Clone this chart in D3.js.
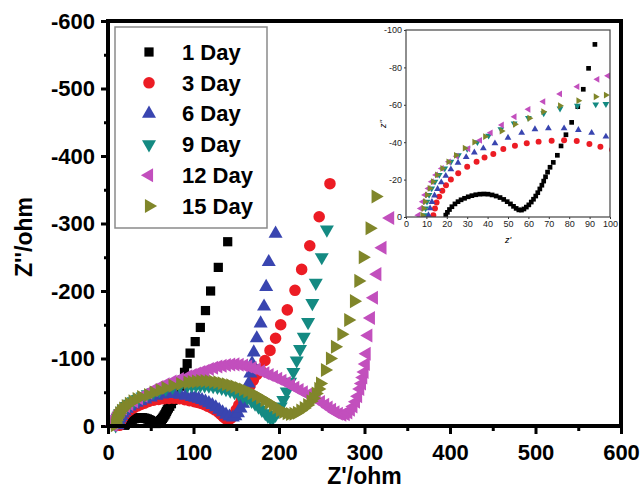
<!DOCTYPE html>
<html>
<head>
<meta charset="utf-8">
<script src="https://cdn.jsdelivr.net/npm/d3@7"></script>
<style>
  body { margin: 0; background: #fff; }
  text { font-family: "Liberation Sans", Arial, sans-serif; }
  .axis text { font-size: 22px; font-weight: bold; fill: #000; }
  .axis line { stroke: #000; stroke-width: 3; }
  .axis .domain { display: none; }
  .inset-axis text { font-size: 9px; fill: #222; }
  .inset-axis line { stroke: #333; stroke-width: 1; }
  .inset-axis .domain { display: none; }
</style>
</head>
<body>
<div id="vis"></div>
<script>
// data: [Z' (ohm), Z'' (ohm)]
var day1 = [[19.5,-1],[20.3,-2.5],[21.3,-4],[22.5,-5.5],[24,-7],[25.5,-8.2],[27,-9.2],[28.7,-10],[30.5,-10.8],[32.3,-11.4],[34.2,-11.9],[36.2,-12.2],[38.2,-12.3],[40.2,-12.2],[42.2,-11.8],[44.2,-11.2],[46.1,-10.4],[47.9,-9.4],[49.6,-8.2],[51.2,-7],[52.7,-5.7],[54,-4.6],[55.3,-3.8],[56.6,-3.7],[57.8,-4.3],[59,-5.3],[60.2,-6.5],[61.4,-8],[62.5,-9.5],[63.6,-11.2],[64.6,-13],[65.6,-15],[66.6,-17],[67.5,-19.2],[68.4,-21.5],[69.4,-24],[70.6,-26.6],[72.2,-29.2],[74.2,-33],[76,-38],[78.4,-44],[81.2,-50.6],[84.2,-59],[86.9,-68.3],[89.5,-79.5],[92.6,-92.3],[96,-108],[102,-125],[108,-146],[114,-171],[120,-200],[129,-235],[140,-273]];
var day3 = [[13.4,-1],[14.2,-4.6],[15,-7.7],[16.3,-10.9],[17.8,-14],[19.6,-17],[22,-20],[25.6,-23.4],[30,-26.9],[34.6,-29.6],[38.5,-31.8],[42.8,-33.7],[47.7,-36.4],[53.4,-38.1],[59.2,-39.4],[65,-40.3],[71.4,-40.8],[77.5,-41],[83.7,-40.6],[89.9,-39],[95.3,-37.6],[101,-36],[105,-34.8],[109,-33.3],[113,-31.5],[117,-29.2],[121,-26.8],[125,-24],[129,-20.5],[132,-17],[135,-13.5],[138,-10.5],[141,-9],[144,-11.5],[147,-17],[150,-24],[153,-31],[156,-39],[159,-46],[162,-52],[166,-59],[170,-68],[174,-76],[178,-84],[183.6,-97],[189.5,-112],[196,-130],[202,-150],[209.7,-172],[218.7,-201],[226.5,-232],[236,-267],[247,-310],[259.6,-359]];
var day6 = [[11,-1],[11.8,-4.6],[12.7,-8],[14,-11.5],[15.5,-15],[17.3,-18.5],[19.5,-22],[22,-25.5],[25.5,-29],[29.5,-32],[33.5,-34.5],[37.9,-36.7],[43.6,-39.4],[50,-42.4],[56.7,-45],[63.2,-46.9],[69.8,-47.4],[77.5,-47.4],[84.5,-46.5],[91,-45],[98,-43],[102,-41.8],[106,-40.3],[110,-38.5],[114,-36.3],[118,-33.8],[122,-31],[126,-27.8],[130,-24],[134,-20.3],[138,-16.8],[142,-14],[146,-12.5],[149,-14.5],[152,-19],[155,-26],[158,-33],[160,-40],[162,-48],[164.5,-63],[166.5,-78],[168.5,-93],[170.5,-109],[174,-130],[178.5,-152],[182.5,-177],[185,-206],[188,-243],[196,-285]];
var day9 = [[9,-1],[9.6,-4.6],[10.3,-8.2],[11.3,-11.8],[12.6,-15.3],[14.2,-18.9],[16.3,-22.5],[19,-26],[22,-29.5],[25.7,-33],[30,-36.5],[35,-40],[40.5,-43.5],[46.5,-47],[53,-50],[60,-53],[67.5,-55.5],[75.5,-58],[84,-59.5],[93,-60.2],[98,-60.4],[103,-60.6],[108,-60.6],[113,-60.3],[118,-59.8],[123,-59],[128,-57.8],[133,-56.3],[138,-54.5],[143,-52.5],[148,-50],[153,-47.5],[158,-44.5],[163,-41.5],[168,-37],[172,-33],[176,-28.5],[180,-24],[184,-19],[187,-15],[190,-12],[193,-12.5],[196,-16.5],[199,-22],[202,-29],[205,-38.5],[209,-51],[213,-65.6],[216.8,-80],[220.7,-97],[224.6,-114],[229,-132],[234,-154],[239,-182],[243,-212],[250,-250],[256,-291]];
var day12 = [[6,-1],[7.2,-4.6],[8.2,-8.2],[9.3,-11.8],[11,-15.3],[12.6,-18.9],[14.7,-22.5],[17.5,-26],[21,-29.5],[24.8,-32.5],[30.5,-36.5],[36.3,-41],[41.5,-45],[47,-49.2],[53.2,-53.6],[60,-57.6],[67.3,-61.7],[75.5,-65.8],[84,-69.7],[93.8,-73.6],[99,-75.5],[104,-77.8],[109,-80],[114,-82],[119,-84.3],[124,-86.3],[129,-88],[134,-89.3],[139,-90.3],[144,-91],[149,-91.3],[154,-90.8],[159,-89.8],[164,-88],[169,-86],[174,-83.7],[179,-81],[184,-78.3],[189,-75.7],[194,-73],[199,-70],[204,-67],[209,-63.8],[214,-60.3],[219,-56.8],[224,-53.3],[229,-50],[234,-46.5],[239,-43],[244,-39.5],[249,-35.5],[254,-31.5],[258,-27.5],[262,-24],[266,-20.5],[270,-18],[274,-16.5],[278,-17.5],[281,-20],[284,-24],[287,-29],[290,-36],[292.5,-44],[295,-55],[297,-63],[298.5,-72],[300,-80],[301.5,-92],[302.5,-107],[304.5,-134],[307.5,-160],[311,-190],[315,-225],[321,-264],[330,-308]];
var day15 = [[8,-1],[8.6,-4.6],[9.3,-8.2],[10.3,-11.8],[11.6,-15.3],[13.2,-18.9],[15.2,-22.5],[17.8,-26],[20.8,-29.5],[24.5,-33],[28.8,-36.8],[33.5,-40],[38.8,-43],[46.9,-46],[53.4,-49.6],[60.5,-52.8],[67.3,-56.3],[75.5,-59.5],[84.5,-62.2],[93,-64.3],[98,-65.2],[103,-66],[108,-66.5],[113,-66.6],[118,-66.3],[123,-65.7],[128,-64.8],[133,-63.5],[138,-62],[143,-60.3],[148,-58.5],[153,-56.3],[158,-54],[163,-51.5],[168,-48.5],[173,-45.5],[178,-42],[183,-38.3],[188,-34.5],[193,-30.5],[197,-27],[201,-23.5],[205,-20.8],[209,-19],[213,-17.8],[217,-18],[221,-19.8],[225,-22.8],[229,-26.5],[233,-31],[237,-36.5],[240,-41],[243,-48],[246,-55],[248,-63],[253.8,-83],[259.6,-100],[265.5,-117.5],[273,-136],[281,-157],[287.7,-185],[292.8,-215],[298,-250],[306,-293],[313,-340]];

var seriesNames = ['1 Day', '3 Day', '6 Day', '9 Day', '12 Day', '15 Day'];
var seriesData = [day1, day3, day6, day9, day12, day15];
var seriesColors = ['#000000', '#ec1c24', '#3945b0', '#148a82', '#c24fbd', '#80862a'];

var xTicks = [0, 100, 200, 300, 400, 500, 600];
var yTicks = [0, -100, -200, -300, -400, -500, -600];
var insetXTicks = [0, 10, 20, 30, 40, 50, 60, 70, 80, 90, 100];
var insetYTicks = [0, -20, -40, -60, -80, -100];

var width = 641;
var height = 488;
var margin = { top: 21, left: 108, right: 20, bottom: 62 };
var plotW = width - margin.left - margin.right;
var plotH = height - margin.top - margin.bottom;

var shapes = [
  { type: d3.symbolSquare, rotate: 0 },
  { type: d3.symbolCircle, rotate: 0 },
  { type: d3.symbolTriangle, rotate: 0 },
  { type: d3.symbolTriangle, rotate: 180 },
  { type: d3.symbolTriangle, rotate: -90 },
  { type: d3.symbolTriangle, rotate: 90 }
];
var mainSizes = [85, 105, 85, 85, 85, 85];
var insetSizes = [22, 28, 20, 20, 20, 20];

var svg = d3.select('#vis')
  .append('svg')
  .attr('width', width)
  .attr('height', height);

var g = svg.append('g')
  .attr('transform', 'translate(' + margin.left + ',' + margin.top + ')');

var x = d3.scaleLinear().domain([0, 600]).range([0, plotW]);
var y = d3.scaleLinear().domain([0, -600]).range([plotH, 0]);

function fmt(d) { return String(d); }

// minor ticks
g.append('g')
  .attr('class', 'axis')
  .attr('transform', 'translate(0,' + plotH + ')')
  .call(d3.axisBottom(x).tickValues(x.ticks(12).filter(function(d) { return d % 100 !== 0; }))
    .tickSize(5).tickFormat(''));
g.append('g')
  .attr('class', 'axis')
  .call(d3.axisLeft(y).tickValues(y.ticks(12).filter(function(d) { return d % 100 !== 0; }))
    .tickSize(4).tickFormat(''));

// major ticks
g.append('g')
  .attr('class', 'x axis')
  .attr('transform', 'translate(0,' + plotH + ')')
  .call(d3.axisBottom(x).tickValues(xTicks).tickSize(8).tickPadding(10).tickFormat(fmt));
g.append('g')
  .attr('class', 'y axis')
  .call(d3.axisLeft(y).tickValues(yTicks).tickSize(7).tickPadding(6).tickFormat(fmt));

// data
seriesData.forEach(function(data, i) {
  var sym = d3.symbol().type(shapes[i].type).size(mainSizes[i]);
  g.append('g')
    .selectAll('path')
    .data(data)
    .enter()
    .append('path')
    .attr('d', sym)
    .attr('fill', seriesColors[i])
    .attr('transform', function(d) {
      return 'translate(' + x(d[0]) + ',' + y(d[1]) + ') rotate(' + shapes[i].rotate + ')';
    });
});

// frame
g.append('rect')
  .attr('width', plotW)
  .attr('height', plotH)
  .attr('fill', 'none')
  .attr('stroke', '#000')
  .attr('stroke-width', 4);

// axis titles
svg.append('text')
  .attr('x', margin.left + plotW / 2)
  .attr('y', 484)
  .attr('text-anchor', 'middle')
  .style('font-size', '23px')
  .style('font-weight', 'bold')
  .text("Z'/ohm");

svg.append('text')
  .attr('transform', 'translate(32,237) rotate(-90)')
  .attr('text-anchor', 'middle')
  .style('font-size', '23px')
  .style('font-weight', 'bold')
  .text("Z''/ohm");

// legend
var legend = svg.append('g');
legend.append('rect')
  .attr('x', 115)
  .attr('y', 27)
  .attr('width', 152)
  .attr('height', 201)
  .attr('fill', '#fff')
  .attr('stroke', '#8a8a8a')
  .attr('stroke-width', 1.5);

var rows = legend.selectAll('.row')
  .data(seriesNames)
  .enter()
  .append('g')
  .attr('class', 'row')
  .attr('transform', function(d, i) { return 'translate(149,' + (52 + i * 30.8) + ')'; });

rows.append('path')
  .attr('d', function(d, i) { return d3.symbol().type(shapes[i].type).size(mainSizes[i])(); })
  .attr('fill', function(d, i) { return seriesColors[i]; })
  .attr('transform', function(d, i) { return 'rotate(' + shapes[i].rotate + ')'; });

rows.append('text')
  .attr('x', 33)
  .attr('dy', '0.35em')
  .style('font-size', '22px')
  .style('font-weight', 'bold')
  .text(function(d) { return d; });

// inset
var inset = { left: 406, top: 30, w: 204, h: 187 };
var ig = svg.append('g')
  .attr('transform', 'translate(' + inset.left + ',' + inset.top + ')');

ig.append('rect')
  .attr('width', inset.w)
  .attr('height', inset.h)
  .attr('fill', '#fff');

var ix = d3.scaleLinear().domain([0, 100]).range([0, inset.w]);
var iy = d3.scaleLinear().domain([0, -100]).range([inset.h, 0]);

svg.append('clipPath')
  .attr('id', 'inset-clip')
  .append('rect')
  .attr('width', inset.w)
  .attr('height', inset.h);

var idata = ig.append('g').attr('clip-path', 'url(#inset-clip)');
seriesData.forEach(function(data, i) {
  var sym = d3.symbol().type(shapes[i].type).size(insetSizes[i]);
  idata.append('g')
    .selectAll('path')
    .data(data.filter(function(d) { return d[0] <= 104 && d[1] >= -104; }))
    .enter()
    .append('path')
    .attr('d', sym)
    .attr('fill', seriesColors[i])
    .attr('transform', function(d) {
      return 'translate(' + ix(d[0]) + ',' + iy(d[1]) + ') rotate(' + shapes[i].rotate + ')';
    });
});

ig.append('g')
  .attr('class', 'inset-axis')
  .attr('transform', 'translate(0,' + inset.h + ')')
  .call(d3.axisBottom(ix).tickValues(insetXTicks).tickSize(2).tickPadding(2).tickFormat(fmt));
ig.append('g')
  .attr('class', 'inset-axis')
  .call(d3.axisLeft(iy).tickValues(insetYTicks).tickSize(2).tickPadding(2).tickFormat(fmt));

ig.append('rect')
  .attr('width', inset.w)
  .attr('height', inset.h)
  .attr('fill', 'none')
  .attr('stroke', '#444')
  .attr('stroke-width', 1.2);

svg.append('text')
  .attr('x', inset.left + inset.w / 2)
  .attr('y', 243)
  .attr('text-anchor', 'middle')
  .style('font-size', '9px')
  .style('font-style', 'italic')
  .text("z'");

svg.append('text')
  .attr('transform', 'translate(386,124) rotate(-90)')
  .attr('text-anchor', 'middle')
  .style('font-size', '9px')
  .style('font-style', 'italic')
  .text("z''");
</script>
</body>
</html>
